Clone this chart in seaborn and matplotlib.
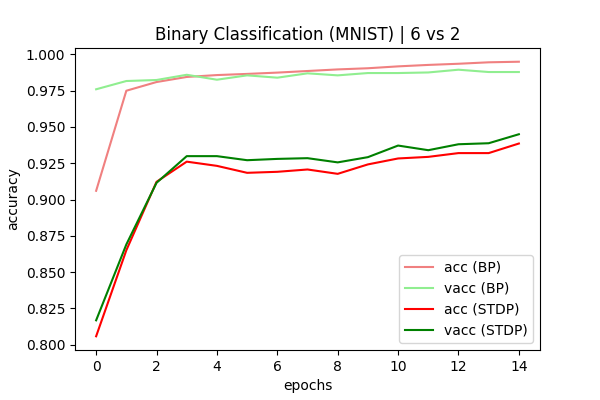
import pandas as pd
import seaborn as sns
from matplotlib import pyplot as plt

epochs = list(range(15))
acc_bp = [0.906, 0.975, 0.981, 0.9845, 0.9858, 0.9866, 0.9875, 0.9886, 0.9897, 0.9905,
          0.9918, 0.9928, 0.9936, 0.9946, 0.995]
vacc_bp = [0.976, 0.9817, 0.9824, 0.986, 0.9826, 0.9856, 0.984, 0.987, 0.9856, 0.9872,
           0.9872, 0.9876, 0.9895, 0.9879, 0.9879]
acc_stdp = [0.8057, 0.865, 0.9122, 0.9261, 0.9232, 0.9184, 0.9191, 0.9207, 0.9177, 0.9242,
            0.9283, 0.9294, 0.932, 0.932, 0.9386]
vacc_stdp = [0.8167, 0.869, 0.9115, 0.9299, 0.9299, 0.9271, 0.928, 0.9285, 0.9256, 0.9292,
             0.9372, 0.934, 0.9381, 0.9388, 0.945]

series = {
    "acc (BP)": (acc_bp, "lightcoral"),
    "vacc (BP)": (vacc_bp, "lightgreen"),
    "acc (STDP)": (acc_stdp, "red"),
    "vacc (STDP)": (vacc_stdp, "green"),
}

fig, ax = plt.subplots(figsize=(6, 4), dpi=100)

for name, (vals, color) in series.items():
    df = pd.DataFrame({"epochs": epochs, "accuracy": vals})
    sns.lineplot(data=df, x="epochs", y="accuracy", color=color, label=name, ax=ax)

ax.set_title("Binary Classification (MNIST) | 6 vs 2")
ax.set_xlabel("epochs")
ax.set_ylabel("accuracy")
ax.legend(loc="lower right")

plt.subplots_adjust(bottom=0.125, top=0.88)
plt.savefig("out.png")
